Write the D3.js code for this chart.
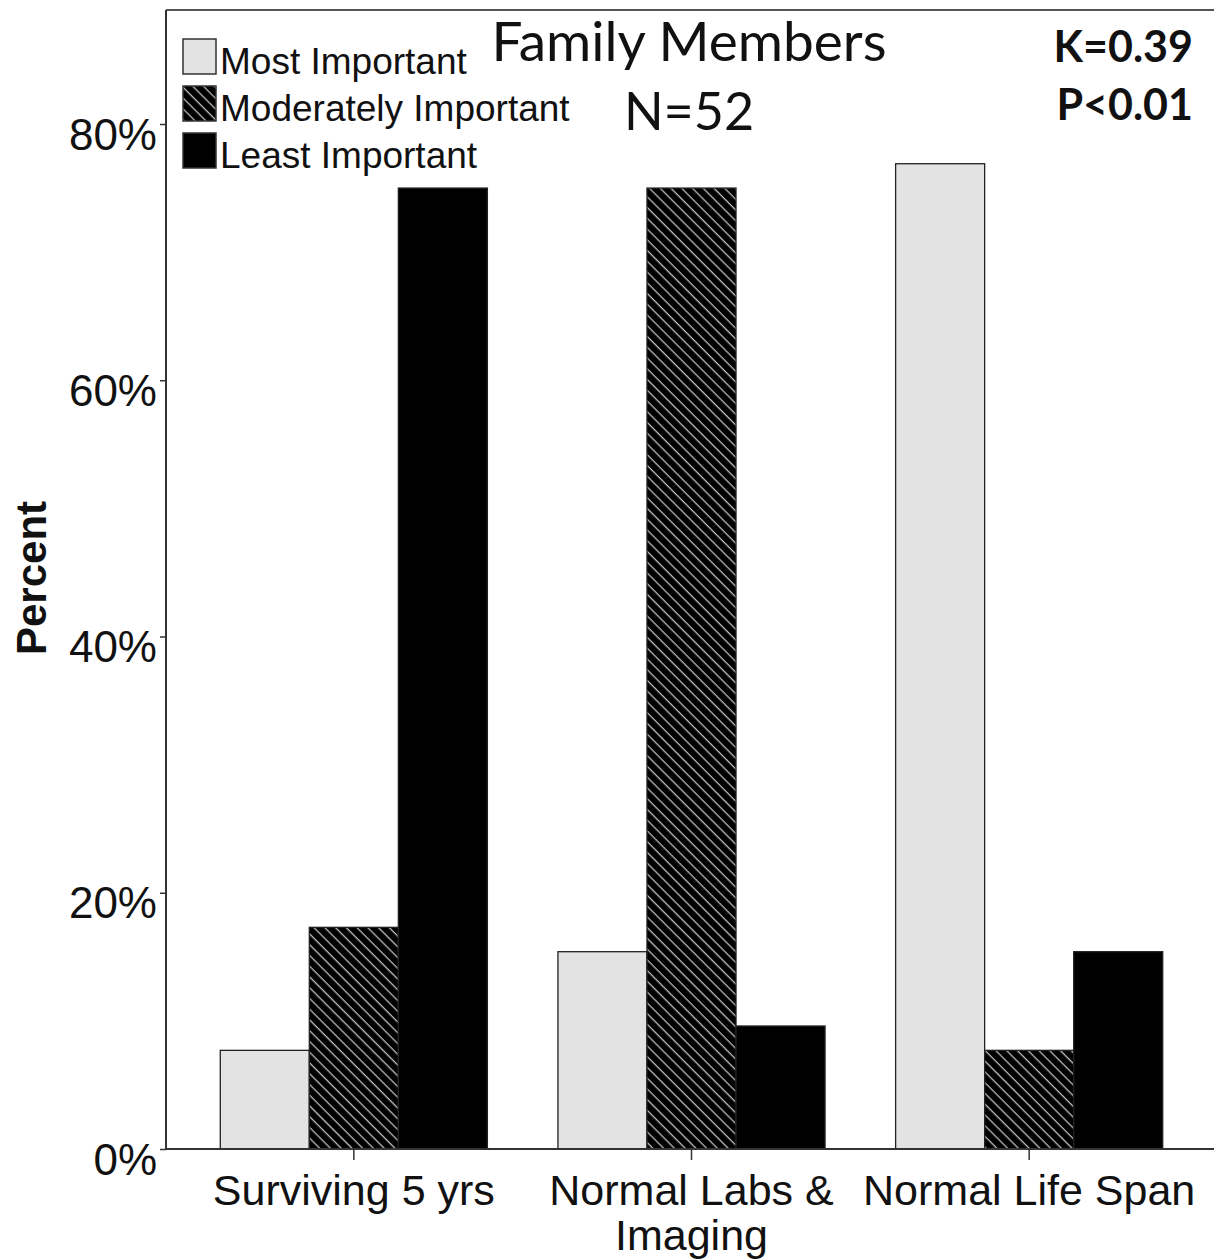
<!DOCTYPE html>
<html><head><meta charset="utf-8">
<script src="https://cdn.jsdelivr.net/npm/d3@7"></script>
<style>html,body{margin:0;padding:0;background:#fff;}</style>
</head><body>
<script>
const categories = [["Surviving 5 yrs"], ["Normal Labs &", "Imaging"], ["Normal Life Span"]];
const seriesNames = ["Most Important", "Moderately Important", "Least Important"];
const mostImportant = [7.7, 15.4, 76.9];
const moderatelyImportant = [17.3, 75.0, 7.7];
const leastImportant = [75.0, 9.6, 15.4];
const yTicks = [0, 20, 40, 60, 80];
const titleText = "Family Members";
const nText = "N=52";
const statTexts = ["K=0.39", "P<0.01"];

const W = 1214, H = 1260;
const svg = d3.select("body").append("svg").attr("width", W).attr("height", H);
const defs = svg.append("defs");
const pat = defs.append("pattern").attr("id", "hatch").attr("patternUnits", "userSpaceOnUse")
  .attr("width", 7.6).attr("height", 7.6).attr("patternTransform", "rotate(45)");
pat.append("rect").attr("width", 7.6).attr("height", 7.6).attr("fill", "#000");
pat.append("line").attr("x1", 0).attr("y1", 0).attr("x2", 7.6).attr("y2", 0)
  .attr("stroke", "#bdbdbd").attr("stroke-width", 2.6);

const fills = ["#e3e3e3", "url(#hatch)", "#000"];
const series = [mostImportant, moderatelyImportant, leastImportant];

const catKeys = categories.map(c => c.join(" "));
const x = d3.scaleBand().domain(catKeys).range([185, 1198]).paddingInner(0.209).paddingOuter(0.1045);
const xs = d3.scaleBand().domain(seriesNames).range([0, x.bandwidth()]);
const y = d3.scaleLinear().domain([0, 80]).range([1149, 124]);
const axisLeftX = 166, topY = y(88.9);

// bars
catKeys.forEach((ck, ci) => {
  seriesNames.forEach((sn, si) => {
    const v = series[si][ci];
    svg.append("rect")
      .attr("x", x(ck) + xs(sn)).attr("y", y(v))
      .attr("width", xs.bandwidth()).attr("height", y(0) - y(v))
      .attr("fill", fills[si]).attr("stroke", "#222").attr("stroke-width", 1.3);
  });
});

// frame
svg.append("line").attr("x1", axisLeftX).attr("x2", W).attr("y1", topY).attr("y2", topY)
  .attr("stroke", "#555").attr("stroke-width", 2);
svg.append("line").attr("x1", axisLeftX).attr("x2", axisLeftX).attr("y1", topY).attr("y2", y(0))
  .attr("stroke", "#333").attr("stroke-width", 2);
svg.append("line").attr("x1", axisLeftX).attr("x2", W).attr("y1", y(0)).attr("y2", y(0))
  .attr("stroke", "#333").attr("stroke-width", 2);

// y axis
const yAxis = d3.axisLeft(y).tickValues(yTicks).tickFormat(d => d + "%").tickSize(6).tickPadding(4);
const gy = svg.append("g").attr("transform", `translate(${axisLeftX},0)`).call(yAxis);
gy.select(".domain").remove();
gy.selectAll(".tick line").attr("stroke", "#333").attr("stroke-width", 1.5);
gy.selectAll(".tick text").attr("font-family", "Liberation Sans, Arial, sans-serif")
  .attr("font-size", 44).attr("fill", "#111").attr("dy", 25).attr("x", -9);

// x axis
const xAxis = d3.axisBottom(x).tickSize(11).tickFormat("");
const gx = svg.append("g").attr("transform", `translate(0,${y(0)})`).call(xAxis);
gx.select(".domain").remove();
gx.selectAll(".tick line").attr("stroke", "#333").attr("stroke-width", 1.5);
catKeys.forEach((ck, ci) => {
  const t = svg.append("text").attr("x", x(ck) + x.bandwidth() / 2).attr("y", 1205)
    .attr("text-anchor", "middle").attr("font-family", "Liberation Sans, Arial, sans-serif")
    .attr("font-size", 43).attr("fill", "#111");
  categories[ci].forEach((line, li) => {
    t.append("tspan").attr("x", x(ck) + x.bandwidth() / 2).attr("dy", li === 0 ? 0 : 45).text(line);
  });
});

// y label
svg.append("text").attr("transform", "translate(46,578) rotate(-90)")
  .attr("text-anchor", "middle").attr("font-family", "Liberation Sans, Arial, sans-serif")
  .attr("font-weight", "bold").attr("font-size", 42).attr("fill", "#111").text("Percent");

// legend
seriesNames.forEach((sn, i) => {
  const ly = 39 + i * 47;
  svg.append("rect").attr("x", 183).attr("y", ly).attr("width", 33).attr("height", 35)
    .attr("fill", fills[i]).attr("stroke", "#333").attr("stroke-width", 1.5);
  svg.append("text").attr("x", 220).attr("y", ly + 35).attr("font-family", "Liberation Sans, Arial, sans-serif")
    .attr("font-size", 37).attr("fill", "#111").text(sn);
});

// title & annotations
svg.append("text").attr("x", 689).attr("y", 61).attr("text-anchor", "middle")
  .attr("font-family", "Lato, Open Sans, sans-serif").attr("font-size", 55).attr("fill", "#111").text(titleText);
svg.append("text").attr("x", 689).attr("y", 130).attr("text-anchor", "middle")
  .attr("font-family", "Lato, Open Sans, sans-serif").attr("font-size", 52).attr("fill", "#111").text(nText);
statTexts.forEach((s, i) => {
  svg.append("text").attr("x", 1193).attr("y", 62 + i * 58).attr("text-anchor", "end")
    .attr("font-family", "Lato, Open Sans, sans-serif").attr("font-weight", "bold")
    .attr("font-size", 43).attr("fill", "#111").text(s);
});
</script>
</body></html>
